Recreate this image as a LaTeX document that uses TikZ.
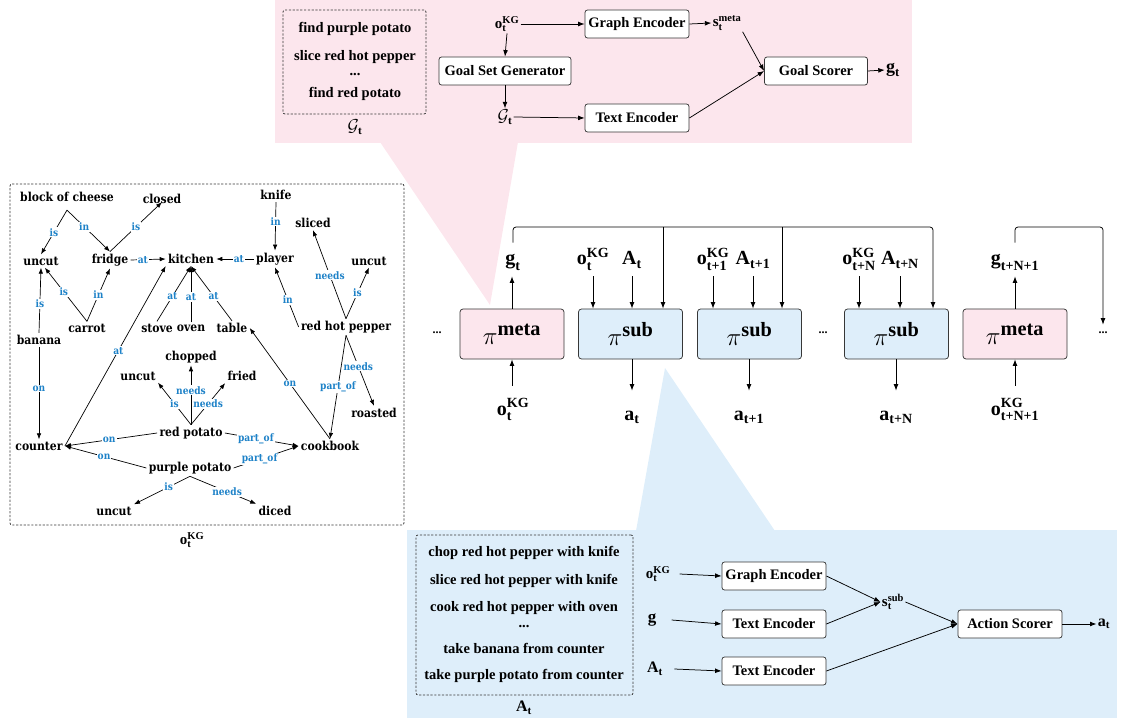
\documentclass[tikz,border=0pt]{standalone}
\usepackage{amsmath}
\usepackage{fontspec}
\setmainfont{Liberation Serif}
\newfontfamily\gfont{DejaVu Serif}[FakeStretch=0.88]
\usetikzlibrary{arrows.meta,calc}
\definecolor{pinkbg}{RGB}{252,230,237}
\definecolor{bluebg}{RGB}{222,238,250}
\definecolor{lblblue}{RGB}{30,130,200}
\definecolor{edgegray}{RGB}{55,55,55}
\newcommand\fs[1]{\fontsize{#1}{#1}\selectfont}
\begin{document}
\begin{tikzpicture}[x=1pt,y=-1pt,line width=0.75pt,
  >={Latex[length=6.5pt,width=4.8pt]},
  box/.style={draw=edgegray,rounded corners=2.5pt,fill=white,minimum width=104pt,
    minimum height=28pt,inner sep=2pt,font=\bfseries\fs{14.5}},
  pol/.style={draw=edgegray,rounded corners=3pt,minimum width=104pt,minimum height=50pt,
    inner sep=0pt,font=\bfseries\fs{29}},
  listbox/.style={draw=edgegray,dashed,dash pattern=on 2.2pt off 1.6pt,rounded corners=2pt,inner sep=0pt},
  item/.style={font=\bfseries\fs{14.5},inner sep=1pt},
  sym/.style={font=\bfseries\fs{15},inner sep=1pt},
  toplab/.style={font=\bfseries\fs{20},anchor=base,text height=21pt,text depth=10pt,inner sep=1pt},
  botlab/.style={font=\bfseries\fs{20},anchor=base,text height=28pt,text depth=4pt,inner sep=1pt},
  dots/.style={font=\bfseries\fs{12},inner sep=1pt},
  gnode/.style={font=\gfont\bfseries\fs{12.3},inner sep=2pt},
  lbl/.style={font=\gfont\bfseries\fs{10.3},text=lblblue,fill=white,inner sep=1pt},
  gedge/.style={->,line width=0.7pt,>={Latex[length=6pt,width=4.5pt]}},
]
\useasboundingbox (0,0) rectangle (1128,722);

% ---------- panels and funnels ----------
\fill[pinkbg] (275,0) rectangle (912,143);
\fill[pinkbg] (380,142) -- (518,142) -- (490,305) -- cycle;
\fill[bluebg] (407,530) rectangle (1117,718);
\fill[bluebg] (665,368) -- (636,531) -- (775,531) -- cycle;

% ---------- meta controller (top) ----------
\node[listbox,minimum width=143pt,minimum height=104pt] (glist) at (354.5,62) {};
\node[item] (g1) at (355,29) {find purple potato};
\node[item] (g2) at (355,57) {slice red hot pepper};
\node[item] (g3) at (355,75) {...};
\node[item] (g4) at (355,94) {find red potato};
\node[sym,font=\bfseries\fs{16}] (Gl) at (355,127) {$\mathcal{G}_{\text{t}}$};

\node[sym] (oKG) at (507,24) {$\text{o}^{\text{KG}}_{\text{t}}$};
\node[box] (ge1) at (637,24) {Graph Encoder};
\node[sym] (sm) at (727,23) {$\text{s}^{\text{meta}}_{\text{t}}$};
\node[box,minimum width=132pt] (gsg) at (505,71) {Goal Set Generator};
\node[sym,font=\bfseries\fs{16}] (Gt) at (505,117) {$\mathcal{G}_{\text{t}}$};
\node[box] (te1) at (637,118) {Text Encoder};
\node[box,minimum width=103pt] (gs) at (816,71) {Goal Scorer};
\node[sym,font=\bfseries\fs{18}] (gout) at (893,70) {$\text{g}_{\text{t}}$};

\draw[->] (oKG.east) -- (ge1.west);
\draw[->] (oKG.south) -- (gsg.north);
\draw[->] (gsg.south) -- (Gt.north);
\draw[->] (Gt.east) -- (te1.west);
\draw[->] (ge1.east) -- (sm.west);
\draw[->] (sm.south east) -- (gs.west);
\draw[->] (te1.east) -- (gs.west);
\draw[->] (gs.east) -- (gout.west);

% ---------- policy chain (middle) ----------
\node[dots] (dl) at (437,333) {...};
\node[pol,fill=pinkbg] (m1) at (512,334) {$\pi^{\text{meta}}$};
\node[pol,fill=bluebg] (s1) at (630.5,334) {$\pi^{\text{sub}}$};
\node[pol,fill=bluebg] (s2) at (749.5,334) {$\pi^{\text{sub}}$};
\node[dots] (dm) at (823,333) {...};
\node[pol,fill=bluebg] (s3) at (896.5,334) {$\pi^{\text{sub}}$};
\node[pol,fill=pinkbg] (m2) at (1015,334) {$\pi^{\text{meta}}$};
\node[dots] (dr) at (1103,333) {...};

\node[toplab] (gt) at (513,265) {$\text{g}_{\text{t}}$};
\node[toplab] (ot1) at (593,265) {$\text{o}^{\text{KG}}_{\text{t}}$};
\node[toplab] (At1) at (632,265) {$\text{A}_{\text{t}}$};
\node[toplab] (ot2) at (713,265) {$\text{o}^{\text{KG}}_{\text{t+1}}$};
\node[toplab] (At2) at (753,265) {$\text{A}_{\text{t+1}}$};
\node[toplab] (ot3) at (859,265) {$\text{o}^{\text{KG}}_{\text{t+N}}$};
\node[toplab] (At3) at (900,265) {$\text{A}_{\text{t+N}}$};
\node[toplab] (gN) at (1015,265) {$\text{g}_{\text{t+N+1}}$};

\node[botlab] (o1b) at (513,415) {$\text{o}^{\text{KG}}_{\text{t}}$};
\node[botlab] (a1) at (632,420) {$\text{a}_{\text{t}}$};
\node[botlab] (a2) at (749,420) {$\text{a}_{\text{t+1}}$};
\node[botlab] (aN) at (896,420) {$\text{a}_{\text{t+N}}$};
\node[botlab] (oNb) at (1015,415) {$\text{o}^{\text{KG}}_{\text{t+N+1}}$};

\draw[->] (m1.north) -- (gt.south -| m1.north);
\draw[->] (o1b.north -| m1.south) -- (m1.south);
\draw[->] (m2.north) -- (gN.south -| m2.north);
\draw[->] (oNb.north -| m2.south) -- (m2.south);
\draw[->] (ot1.south) -- (ot1.south |- s1.north);
\draw[->] (At1.south) -- (At1.south |- s1.north);
\draw[->] (ot2.south) -- (ot2.south |- s2.north);
\draw[->] (At2.south) -- (At2.south |- s2.north);
\draw[->] (ot3.south) -- (ot3.south |- s3.north);
\draw[->] (At3.south) -- (At3.south |- s3.north);
\draw[->] (s1.south -| a1.north) -- (a1.north);
\draw[->] (s2.south -| a2.north) -- (a2.north);
\draw[->] (s3.south -| aN.north) -- (aN.north);

\coordinate (busR) at (933,227);
\coordinate (b1) at (663,227);
\coordinate (b2) at (782,227);
\coordinate (busR2) at (1103,227);
\draw[->,rounded corners=3pt] (gt.north) |- (busR) -- (busR |- s3.north);
\draw[->] (b1) -- (b1 |- s1.north);
\draw[->] (b2) -- (b2 |- s2.north);
\draw[->,rounded corners=3pt] (gN.north) |- (busR2) -- ([yshift=6pt]dr.north);

% ---------- sub policy (bottom) ----------
\node[listbox,minimum width=217pt,minimum height=160pt] (alist) at (524.5,615) {};
\node[item] (l1) at (524,553) {chop red hot pepper with knife};
\node[item] (l2) at (524,581) {slice red hot pepper with knife};
\node[item] (l3) at (524,608) {cook red hot pepper with oven};
\node[item] (l4) at (524,627) {...};
\node[item] (l5) at (524,648) {take banana from counter};
\node[item] (l6) at (524,676) {take purple potato from counter};
\node[sym,font=\bfseries\fs{16}] (Atl) at (524,708) {$\text{A}_{\text{t}}$};

\node[sym] (ost) at (658,574) {$\text{o}^{\text{KG}}_{\text{t}}$};
\node[sym,font=\bfseries\fs{17}] (gg) at (652,620) {g};
\node[sym,font=\bfseries\fs{16}] (Ats) at (655,669) {$\text{A}_{\text{t}}$};
\node[box] (ge2) at (774,576) {Graph Encoder};
\node[box] (te2) at (774,624) {Text Encoder};
\node[box] (te3) at (774,671) {Text Encoder};
\node[sym] (ss) at (893,602) {$\text{s}^{\text{sub}}_{\text{t}}$};
\node[box] (as) at (1010,624) {Action Scorer};
\node[sym,font=\bfseries\fs{16}] (atout) at (1104,624) {$\text{a}_{\text{t}}$};

\draw[->] ([xshift=8pt]ost.east) -- (ge2.west);
\draw[->] ([xshift=14pt]gg.east) -- (te2.west);
\draw[->] ([xshift=10pt]Ats.east) -- (te3.west);
\draw[->] (ge2.east) -- (ss.west);
\draw[->] (te2.east) -- (ss.west);
\draw[->] (ss.east) -- (as.west);
\draw[->] (te3.east) -- (as.west);
\draw[->] (as.east) -- (atout.west);

% ---------- knowledge graph (left) ----------
\node[listbox,minimum width=394pt,minimum height=341pt] (kg) at (207,354.5) {};
\node[sym] (kgl) at (192,540) {$\text{o}^{\text{KG}}_{\text{t}}$};

\node[gnode] (cheese) at (67,197) {block of cheese};
\node[gnode] (closed) at (162,199) {closed};
\node[gnode] (uncutA) at (41,261) {uncut};
\node[gnode] (fridge) at (110,260) {fridge};
\node[gnode] (kitchen) at (191,259) {kitchen};
\node[gnode] (player) at (275,259) {player};
\node[gnode] (knife) at (276,195) {knife};
\node[gnode] (sliced) at (313,223) {sliced};
\node[gnode] (uncutB) at (369,261) {uncut};
\node[gnode] (rhp) at (346,327) {red hot pepper};
\node[gnode] (carrot) at (87,328) {carrot};
\node[gnode] (banana) at (39,340) {banana};
\node[gnode] (stove) at (157,328) {stove};
\node[gnode] (oven) at (191,328) {oven};
\node[gnode] (table) at (232,328) {table};
\node[gnode] (chopped) at (191,357) {chopped};
\node[gnode] (uncutC) at (138,376) {uncut};
\node[gnode] (fried) at (242,376) {fried};
\node[gnode] (redpot) at (191,433) {red potato};
\node[gnode] (counter) at (39,446) {counter};
\node[gnode] (cookbook) at (330,446) {cookbook};
\node[gnode] (roasted) at (374,413) {roasted};
\node[gnode] (purpot) at (190,468) {purple potato};
\node[gnode] (uncutD) at (114,511) {uncut};
\node[gnode] (diced) at (275,511) {diced};

\draw[gedge] ([yshift=-6pt]cheese.south) -- node[lbl]{is} (uncutA.north);
\draw[gedge] ([yshift=-6pt]cheese.south) -- node[lbl,pos=0.4]{in} (fridge.north);
\draw[gedge] (fridge.north) -- node[lbl]{is} ([yshift=4pt]closed.south);
\draw[gedge] (banana.north) -- node[lbl,pos=0.45]{is} (uncutA.south);
\draw[gedge] (banana.south) -- node[lbl,pos=0.45]{on} (counter.north);
\draw[gedge] (carrot.north) -- node[lbl,pos=0.55]{is} (uncutA.-60);
\draw[gedge] (carrot.north) -- node[lbl]{in} (fridge.south);
\draw[gedge] (fridge.east) -- node[lbl,pos=0.35]{at} (kitchen.west);
\draw[gedge] (player.west) -- node[lbl,pos=0.4]{at} (kitchen.east);
\draw[gedge] (knife.south) -- node[lbl,pos=0.4]{in} (player.north);
\draw[gedge] (stove.north) -- node[lbl,pos=0.45]{at} (kitchen.south);
\draw[gedge] (oven.north) -- node[lbl,pos=0.45]{at} (kitchen.south);
\draw[gedge] (table.north) -- node[lbl,pos=0.45]{at} (kitchen.south);
\draw[gedge] (counter.east) -- node[lbl,pos=0.53]{at} (kitchen.south west);
\draw[gedge] (rhp.west) -- node[lbl,pos=0.46]{in} (player.south);
\draw[gedge] (rhp.north) -- node[lbl,pos=0.49]{needs} (sliced.south);
\draw[gedge] (rhp.north) -- node[lbl,pos=0.5]{is} (uncutB.south);
\draw[gedge] (rhp.south) -- node[lbl,pos=0.44]{needs} (roasted.north);
\draw[gedge] (rhp.south) -- node[lbl,pos=0.5]{part\_of} (cookbook.north);
\draw[gedge] (cookbook.north) -- node[lbl,pos=0.5]{on} (table.east);
\draw[gedge] (redpot.north) -- node[lbl,pos=0.5]{is} (uncutC.south east);
\draw[gedge] (redpot.north) -- node[lbl,pos=0.58]{needs} (chopped.south);
\draw[gedge] (redpot.north) -- node[lbl,pos=0.5]{needs} (fried.south west);
\draw[gedge] (redpot.west) -- node[lbl,pos=0.52]{on} (counter.east);
\draw[gedge] (purpot.west) -- node[lbl,pos=0.52]{on} (counter.east);
\draw[gedge] (redpot.east) -- node[lbl,pos=0.42]{part\_of} (cookbook.west);
\draw[gedge] (purpot.east) -- node[lbl,pos=0.4]{part\_of} (cookbook.west);
\draw[gedge] (purpot.south) -- node[lbl,pos=0.38]{is} (uncutD.north east);
\draw[gedge] (purpot.south) -- node[lbl,pos=0.56]{needs} (diced.north west);
\end{tikzpicture}
\end{document}
